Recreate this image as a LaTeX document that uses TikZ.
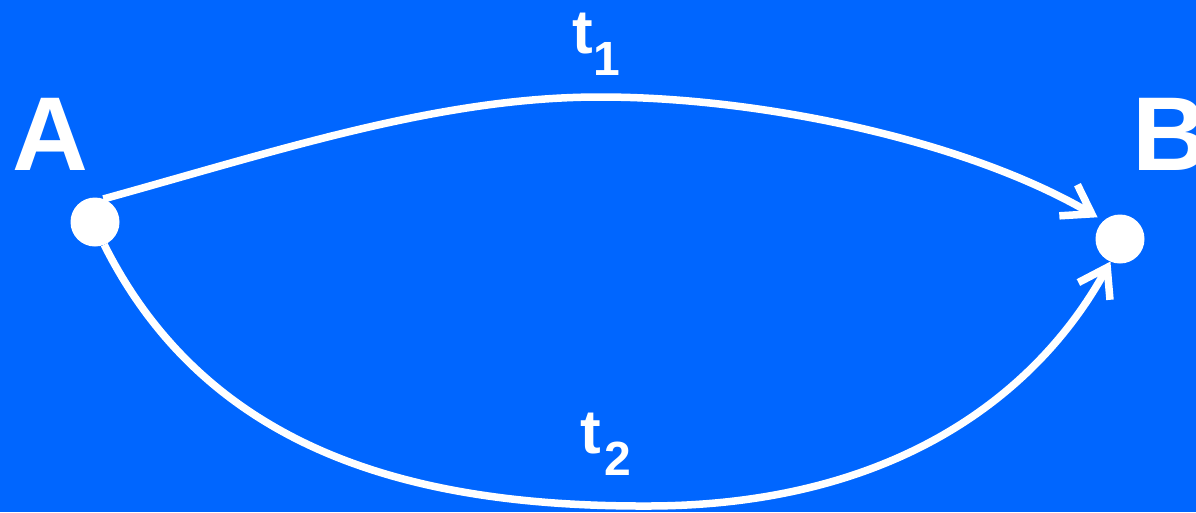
\documentclass[tikz,border=0pt]{standalone}
\usepackage{fontspec}
\setmainfont{Liberation Sans}
\usetikzlibrary{arrows.meta}
\definecolor{bg}{RGB}{0,102,255}
\begin{document}
\begin{tikzpicture}[x=1pt,y=-1pt,
  dot/.style={circle,fill=white,minimum size=49pt,inner sep=0pt,outer sep=0pt},
  big/.style={text=white,inner sep=0pt,anchor=base west,font=\bfseries\fontsize{105}{105}\selectfont},
  lbl/.style={text=white,inner sep=0pt,anchor=base west,font=\bfseries},
  conn/.style={draw=white,line width=7.5pt,-{Straight Barb[length=27pt,width=36pt]}}]
\useasboundingbox (0,0) rectangle (1196,512);
\fill[bg] (0,0) rectangle (1196,512);
\node[dot] (A) at (95,222) {};
\node[dot] (B) at (1120,239) {};
\node[big] (lA) at (12,170) {A};
\node[big] (lB) at (1132,170) {B};
\node[lbl] (t1) at (572,53) {{\fontsize{62}{62}\selectfont t}\hspace{1pt}\raisebox{-22pt}{\fontsize{48}{48}\selectfont 1}};
\node[lbl] (t2) at (580,453) {{\fontsize{62}{62}\selectfont t}\hspace{4pt}\raisebox{-22pt}{\fontsize{48}{48}\selectfont 2}};
\coordinate (u1) at (600,97);
\coordinate (d1) at (650,506);
\draw[conn,shorten >=7pt] (A.70) .. controls (280,150) and (440,97) .. (u1)
   .. controls (760,97) and (965,140) .. (B.132);
\draw[conn] (A.-68) .. controls (210,455) and (420,507) .. (d1)
   .. controls (900,505) and (1040,390) .. (B.-113);
\end{tikzpicture}
\end{document}
